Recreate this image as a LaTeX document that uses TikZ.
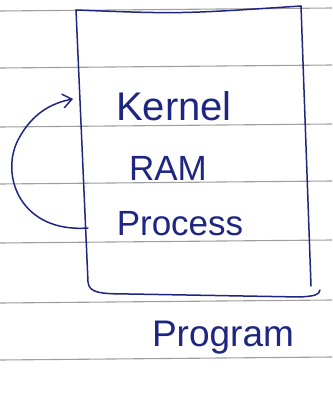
\documentclass[tikz,border=0pt]{standalone}
\usepackage{fontspec}
\setmainfont{Liberation Sans}
\usepackage{tikz}
\usetikzlibrary{arrows.meta,positioning}
\definecolor{ink}{RGB}{30,38,130}

\begin{document}
\begin{tikzpicture}[
  x=1pt, y=-1pt,
  rule/.style={draw=gray!75, line width=1.1pt},
  pen/.style={draw=ink, line width=1.5pt, line cap=round, line join=round},
  word/.style={text=ink, font=\fontsize{35}{37}\selectfont, inner sep=0pt},
  arr/.style={pen, -{Straight Barb[length=9pt, width=14pt]}}
]
  \useasboundingbox (0,0) rectangle (332,404);
  \fill[white] (0,0) rectangle (332,404);

  % ruled paper
  \foreach \ry in {11,68,127,184,243,303,360}
    \draw[rule] (0,\ry) -- (332,\ry-3);

  % the box
  \coordinate (tl) at (76,10);
  \coordinate (tr) at (301,6);
  \coordinate (br) at (311,286);
  \coordinate (bl) at (89,291);
  \draw[pen] (tr) -- (br);
  \draw[pen] (tl) .. controls (180,14) .. (tr);
  \draw[pen] (tl) -- (88,282) .. controls (89,293) and (100,294) .. (130,294)
    -- (300,297) .. controls (315,296) and (319,295) .. (320,290);

  \node[word, font=\fontsize{40}{42}\selectfont] (kern) at (174,106) {Kernel};
  \node[word] (ram)  at (168,168) {RAM};
  \node[word] (proc) at (180,224) {Process};
  \node[word, font=\fontsize{37}{39}\selectfont] (prog) at (223,338) {Program};

  \coordinate (procin) at (88,228);
  \coordinate (kernin) at (73,99);
  \draw[arr] (procin) .. controls (20,233) and (0,175) .. (18,140)
    .. controls (32,113) and (52,103) .. (kernin);
\end{tikzpicture}
\end{document}
